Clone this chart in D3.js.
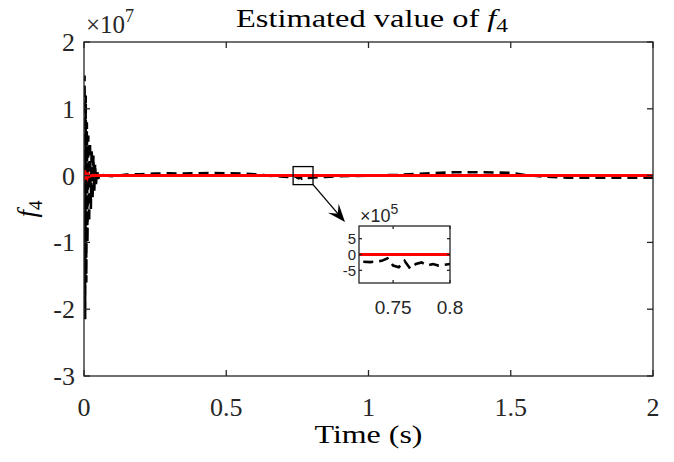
<!DOCTYPE html>
<html>
<head>
<meta charset="utf-8">
<script src="https://cdn.jsdelivr.net/npm/d3@7"></script>
<style>
  body { margin: 0; background: #fff; }
  svg { display: block; }
</style>
</head>
<body>
<div id="chart"></div>
<script>
// estimated f4: dashed black
const estTime = [0, 0.002, 0.004, 0.006, 0.008, 0.010, 0.012, 0.015, 0.018, 0.021,
  0.024, 0.027, 0.030, 0.033, 0.036, 0.039, 0.042, 0.046, 0.050, 0.055,
  0.06, 0.1, 0.15, 0.2, 0.25, 0.3, 0.35, 0.4,
  0.45, 0.5, 0.55, 0.6, 0.65, 0.7, 0.72, 0.73, 0.74, 0.745, 0.75, 0.755,
  0.76, 0.765, 0.77, 0.775, 0.78, 0.785, 0.79, 0.8, 0.85, 0.9, 1.0, 1.1,
  1.2, 1.3, 1.4, 1.5, 1.55, 1.6, 1.7, 1.8, 1.9, 2.0];
const estValue = [0, 1.5e7, -2.15e7, 1.2e7, -1.6e7, 0.8e7, -1.0e7, 0.6e7, -0.7e7, 0.5e7,
  -0.5e7, 0.4e7, -0.35e7, 0.3e7, -0.25e7, 0.18e7, -0.13e7, 0.08e7, -0.05e7, 0.03e7,
  1e5, -1e5, 1.5e5, 2e5, 3e5, 3.5e5, 3e5, 3.5e5,
  4e5, 3.5e5, 3e5, 2e5, 0, -1.5e5, -2.2e5, -2.4e5, -2e5, -1.2e5, -3.5e5, -4e5,
  -2e5, -4.5e5, -3e5, -2.5e5, -3.5e5, -3e5, -3.5e5, -3e5, -2e5, -1e5, 0, 1e5,
  3e5, 5e5, 5e5, 4e5, 1e5, -1e5, -3e5, -3e5, -3e5, -3e5];

// actual f4: solid red
const refTime = [0, 0.002, 0.004, 0.006, 0.008, 0.010, 0.013, 0.016, 0.020, 0.030, 0.050, 2.0];
const refValue = [0, 0.08e7, -0.06e7, 0.05e7, -0.04e7, 0.03e7, -0.02e7, 0.015e7, -0.01e7, 0.005e7, 0, 0];

const xTicks = [0, 0.5, 1, 1.5, 2];
const yTicks = [-3, -2, -1, 0, 1, 2];       // x 10^7
const insetXTicks = [0.75, 0.8];
const insetYTicks = [-5, 0, 5];              // x 10^5

const W = 674, H = 462;
const m = {left: 84, right: 653, top: 42, bottom: 376};
const axisColor = "#262626";
const serif = "'Liberation Serif', 'DejaVu Serif', serif";
const sans = "'Liberation Sans', Arial, sans-serif";

const svg = d3.select("#chart").append("svg")
  .attr("width", W).attr("height", H)
  .attr("viewBox", [0, 0, W, H]);

const x = d3.scaleLinear().domain([0, 2]).range([m.left, m.right]);
const y = d3.scaleLinear().domain([-3e7, 2e7]).range([m.bottom, m.top]);

const est = estTime.map((t, i) => [t, estValue[i]]);
const ref = refTime.map((t, i) => [t, refValue[i]]);

svg.append("defs").append("clipPath").attr("id", "clipMain")
  .append("rect").attr("x", m.left).attr("y", m.top)
  .attr("width", m.right - m.left).attr("height", m.bottom - m.top);

const line = d3.line().x(d => x(d[0])).y(d => y(d[1]));

const plot = svg.append("g").attr("clip-path", "url(#clipMain)");
plot.append("path").datum(est)
  .attr("d", line).attr("fill", "none")
  .attr("stroke", "#000").attr("stroke-width", 2.6)
  .attr("stroke-dasharray", "10,6");
plot.append("path").datum(ref)
  .attr("d", line).attr("fill", "none")
  .attr("stroke", "#ff0000").attr("stroke-width", 3);

// axes box with inward ticks on all four sides
const frame = svg.append("g").attr("stroke", axisColor).attr("stroke-width", 1.3).attr("fill", "none");
frame.append("rect").attr("x", m.left).attr("y", m.top)
  .attr("width", m.right - m.left).attr("height", m.bottom - m.top);
xTicks.forEach(t => {
  frame.append("line").attr("x1", x(t)).attr("x2", x(t)).attr("y1", m.bottom).attr("y2", m.bottom - 6);
  frame.append("line").attr("x1", x(t)).attr("x2", x(t)).attr("y1", m.top).attr("y2", m.top + 6);
});
yTicks.forEach(t => {
  frame.append("line").attr("y1", y(t * 1e7)).attr("y2", y(t * 1e7)).attr("x1", m.left).attr("x2", m.left + 6);
  frame.append("line").attr("y1", y(t * 1e7)).attr("y2", y(t * 1e7)).attr("x1", m.right).attr("x2", m.right - 6);
});

const labels = svg.append("g").attr("fill", axisColor).style("font-family", serif).style("font-size", "26px");
labels.selectAll(".xt").data(xTicks).join("text")
  .attr("x", d => x(d)).attr("y", m.bottom + 40)
  .attr("text-anchor", "middle").text(d => d);
labels.selectAll(".yt").data(yTicks).join("text")
  .attr("x", m.left - 9).attr("y", d => y(d * 1e7) + 9)
  .attr("text-anchor", "end").text(d => d);

// exponent
const ex = svg.append("text").attr("x", m.left + 2).attr("y", 33)
  .attr("fill", axisColor).style("font-family", serif).style("font-size", "25px");
ex.append("tspan").text("\u00d710");
ex.append("tspan").attr("dy", -11).style("font-size", "18px").text("7");

// title
const title = svg.append("text").attr("x", 236).attr("y", 27)
  .attr("textLength", 272).attr("lengthAdjust", "spacingAndGlyphs")
  .attr("fill", "#000")
  .style("font-family", serif).style("font-size", "25px");
title.append("tspan").text("Estimated value of ");
title.append("tspan").style("font-style", "italic").text("f");
title.append("tspan").attr("dy", 5).style("font-size", "18px").text("4");

// axis labels
svg.append("text").attr("x", (m.left + m.right) / 2 - 54).attr("y", 443)
  .attr("textLength", 108).attr("lengthAdjust", "spacingAndGlyphs")
  .attr("fill", "#000")
  .style("font-family", serif).style("font-size", "26px").text("Time (s)");
const yl = svg.append("text")
  .attr("transform", `translate(36,${(m.top + m.bottom) / 2}) rotate(-90)`)
  .attr("text-anchor", "middle").attr("fill", "#000")
  .style("font-family", serif).style("font-size", "27px");
yl.append("tspan").style("font-style", "italic").text("f");
yl.append("tspan").attr("dy", 6).style("font-size", "19px").text("4");

// zoom box on main axes + arrow
const zoomX = [0.735, 0.805], zoomY = [-1.35e6, 1.35e6];
svg.append("rect")
  .attr("x", x(zoomX[0])).attr("y", y(zoomY[1]))
  .attr("width", x(zoomX[1]) - x(zoomX[0])).attr("height", y(zoomY[0]) - y(zoomY[1]))
  .attr("fill", "none").attr("stroke", "#000").attr("stroke-width", 1.3);

// inset axes
const im = {left: 359, right: 450, top: 226, bottom: 283};
const ix = d3.scaleLinear().domain([0.72, 0.8]).range([im.left, im.right]);
const iy = d3.scaleLinear().domain([-9e5, 9e5]).range([im.bottom, im.top]);

const ax0 = x(zoomX[1]), ay0 = y(zoomY[0]);
const ax1 = im.left - 14, ay1 = im.top - 4;
const ang = Math.atan2(ay1 - ay0, ax1 - ax0);
svg.append("line").attr("x1", ax0).attr("y1", ay0)
  .attr("x2", ax1 - 8 * Math.cos(ang)).attr("y2", ay1 - 8 * Math.sin(ang))
  .attr("stroke", "#000").attr("stroke-width", 1.3);
const head = [[ax1, ay1],
  [ax1 - 18 * Math.cos(ang) + 7 * Math.sin(ang), ay1 - 18 * Math.sin(ang) - 7 * Math.cos(ang)],
  [ax1 - 11 * Math.cos(ang), ay1 - 11 * Math.sin(ang)],
  [ax1 - 18 * Math.cos(ang) - 7 * Math.sin(ang), ay1 - 18 * Math.sin(ang) + 7 * Math.cos(ang)]];
svg.append("path").attr("d", "M" + head.join("L") + "Z").attr("fill", "#000");

svg.select("defs").append("clipPath").attr("id", "clipInset")
  .append("rect").attr("x", im.left).attr("y", im.top)
  .attr("width", im.right - im.left).attr("height", im.bottom - im.top);

svg.append("rect").attr("x", im.left).attr("y", im.top)
  .attr("width", im.right - im.left).attr("height", im.bottom - im.top).attr("fill", "#fff");

const iline = d3.line().x(d => ix(d[0])).y(d => iy(d[1]));
const inset = svg.append("g").attr("clip-path", "url(#clipInset)");
inset.append("path").datum(est).attr("d", iline).attr("fill", "none")
  .attr("stroke", "#000").attr("stroke-width", 2.6).attr("stroke-dasharray", "10,6");
inset.append("path").datum(ref).attr("d", iline).attr("fill", "none")
  .attr("stroke", "#ff0000").attr("stroke-width", 3);

const iframe = svg.append("g").attr("stroke", axisColor).attr("stroke-width", 1.3).attr("fill", "none");
iframe.append("rect").attr("x", im.left).attr("y", im.top)
  .attr("width", im.right - im.left).attr("height", im.bottom - im.top);
insetXTicks.forEach(t => {
  iframe.append("line").attr("x1", ix(t)).attr("x2", ix(t)).attr("y1", im.bottom).attr("y2", im.bottom - 3);
  iframe.append("line").attr("x1", ix(t)).attr("x2", ix(t)).attr("y1", im.top).attr("y2", im.top + 3);
});
insetYTicks.forEach(t => {
  iframe.append("line").attr("y1", iy(t * 1e5)).attr("y2", iy(t * 1e5)).attr("x1", im.left).attr("x2", im.left + 3);
  iframe.append("line").attr("y1", iy(t * 1e5)).attr("y2", iy(t * 1e5)).attr("x1", im.right).attr("x2", im.right - 3);
});

const ilabels = svg.append("g").attr("fill", axisColor).style("font-family", sans);
ilabels.selectAll(".ixt").data(insetXTicks).join("text")
  .style("font-size", "19px")
  .attr("x", d => ix(d)).attr("y", 314)
  .attr("text-anchor", "middle").text(d => d);
ilabels.selectAll(".iyt").data(insetYTicks).join("text")
  .style("font-size", "15px")
  .attr("x", im.left - 3).attr("y", d => iy(d * 1e5) + 5.5)
  .attr("text-anchor", "end").text(d => d);
const iex = svg.append("text").attr("x", im.left + 1).attr("y", 222)
  .attr("fill", axisColor).style("font-family", sans).style("font-size", "18px");
iex.append("tspan").text("\u00d710");
iex.append("tspan").attr("dy", -8).style("font-size", "14px").text("5");
</script>
</body>
</html>
